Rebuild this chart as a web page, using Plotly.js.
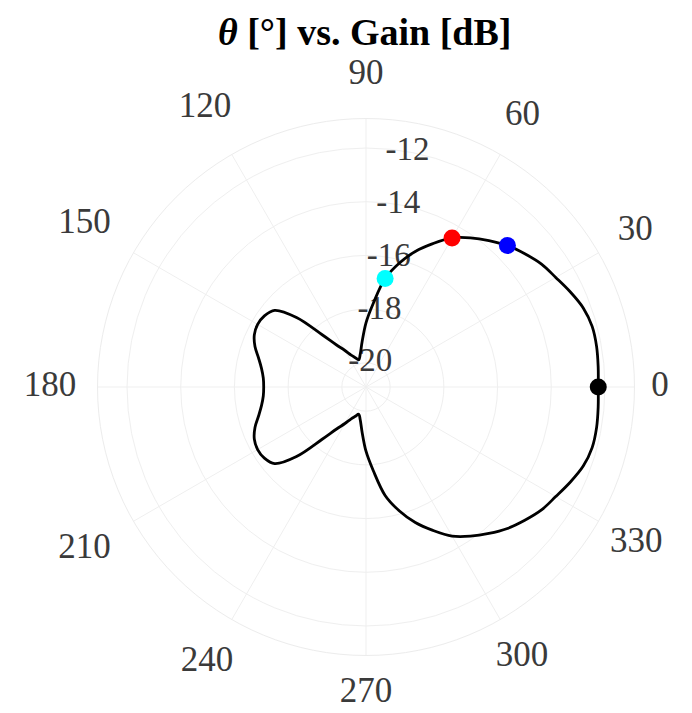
<!DOCTYPE html>
<html>
<head>
<meta charset="utf-8">
<script src="https://cdn.plot.ly/plotly-3.0.1.min.js"></script>
<style>html,body{margin:0;padding:0;background:#fff;}#chart{width:692px;height:713px;}</style>
</head>
<body>
<div id="chart"></div>
<script>
// Angle in degrees
var thetaDeg = [0,5,10,15,20,25,30,35,40,45,50,55,60,65,70,75,80,85,90,95,100,105,110,115,120,125,130,135,140,145,150,155,160,165,170,175,180,
  185,190,195,200,205,210,215,220,225,230,235,240,245,250,255,260,265,270,275,280,285,290,295,300,305,310,315,320,325,330,335,340,345,350,355,360];
// Gain in dB
var gainDb = [-12.25,-12.22,-12.18,-12.18,-12.29,-12.51,-12.74,-12.92,-13.18,-13.45,-13.78,-14.12,-14.49,-15.01,-15.53,-16.13,-16.80,-17.77,-18.51,-19.22,-19.66,-19.85,-19.74,-19.59,-19.33,-18.99,-18.36,-17.24,-16.46,-16.28,-16.24,-16.31,-16.50,-16.76,-16.95,-17.06,-17.09,
  -17.06,-16.95,-16.76,-16.50,-16.31,-16.24,-16.28,-16.46,-17.24,-18.36,-18.99,-19.33,-19.59,-19.74,-19.85,-19.66,-19.22,-18.51,-17.77,-16.80,-16.13,-15.53,-15.01,-14.49,-14.12,-13.78,-13.45,-13.18,-12.92,-12.74,-12.51,-12.29,-12.18,-12.18,-12.22,-12.25];
// Highlighted points
var markTheta = [0, 45, 60, 80];
var markGain = [-12.25, -13.45, -14.49, -16.80];
var markColors = ['#000000', '#0000ff', '#ff0000', '#00ffff'];
// Tick labels
var angTicks = [0,30,60,90,120,150,180,210,240,270,300,330];
var angLabels = ['0','30','60','90','120','150','180','210','240','270','300','330'];
var radTicks = [-20,-18,-16,-14,-12];
var radLabels = ['-20','-18','-16','-14','-12'];

// layout constants
var radLabelAngle = 80;
var rMin = -20.9, rMax = -10.9;
var R = 268.5, cx = 366, cy = 387;
var pxPerUnit = R / (rMax - rMin);
var R2 = 325.8;                                  // outer, invisible frame used for theta labels
var rMax2 = rMin + R2 / pxPerUnit;
// distance (px) of each theta label from the centre
var angLabelDist = [294, 311, 313, 312, 322, 325, 316, 325, 318, 306, 312, 312];

var traces = [
  {type:'scatterpolar', subplot:'polar', mode:'text', r:radTicks, theta:radTicks.map(function(){return radLabelAngle;}),
   text:radLabels, textposition:'middle center',
   textfont:{family:'Liberation Serif', size:33, color:'#3a3a3a'}, hoverinfo:'skip', showlegend:false, cliponaxis:false},
  {type:'scatterpolar', subplot:'polar2', mode:'text', r:angLabelDist.map(function(d){return rMin + d / pxPerUnit;}), theta:angTicks,
   text:angLabels, textposition:'middle center',
   textfont:{family:'Liberation Serif', size:35, color:'#3a3a3a'}, hoverinfo:'skip', showlegend:false, cliponaxis:false},
  {type:'scatterpolar', subplot:'polar', mode:'lines', r:gainDb, theta:thetaDeg,
   line:{color:'#000', width:2.8, shape:'spline', smoothing:1}, hoverinfo:'skip', showlegend:false},
  {type:'scatterpolar', subplot:'polar', mode:'markers', r:markGain, theta:markTheta,
   marker:{color:markColors, size:17, line:{width:0}}, showlegend:false}
];

var layout = {
  width:692, height:713,
  margin:{l:0,r:0,t:0,b:0},
  paper_bgcolor:'#fff',
  showlegend:false,
  title:{text:'<i>θ</i> [°] vs. Gain [dB]', x:0.527, xanchor:'center', y:0.955, yanchor:'middle', yref:'container',
         font:{family:'Liberation Serif', size:38, color:'#000', weight:'bold'}},
  polar:{
    domain:{x:[(cx-R)/692, (cx+R)/692], y:[1-(cy+R)/713, 1-(cy-R)/713]},
    bgcolor:'#fff',
    angularaxis:{
      rotation:0, direction:'counterclockwise',
      tickmode:'array', tickvals:angTicks, showticklabels:false,
      ticks:'',
      showline:true, linecolor:'#ececec', linewidth:1,
      gridcolor:'#efefef', gridwidth:1
    },
    radialaxis:{
      range:[rMin, rMax], angle:radLabelAngle,
      tickmode:'array', tickvals:radTicks, showticklabels:false,
      ticks:'', showline:false,
      gridcolor:'#efefef', gridwidth:1
    }
  },
  polar2:{
    domain:{x:[(cx-R2)/692, Math.min(1, (cx+R2)/692)], y:[1-(cy+R2)/713, 1-(cy-R2)/713]},
    bgcolor:'rgba(0,0,0,0)',
    angularaxis:{rotation:0, direction:'counterclockwise', visible:false, showgrid:false, showline:false, ticks:'', showticklabels:false},
    radialaxis:{range:[rMin, rMax2], visible:false, showgrid:false, showline:false, ticks:'', showticklabels:false}
  }
};

Plotly.newPlot('chart', traces, layout, {displayModeBar:false, staticPlot:true});
</script>
</body>
</html>
